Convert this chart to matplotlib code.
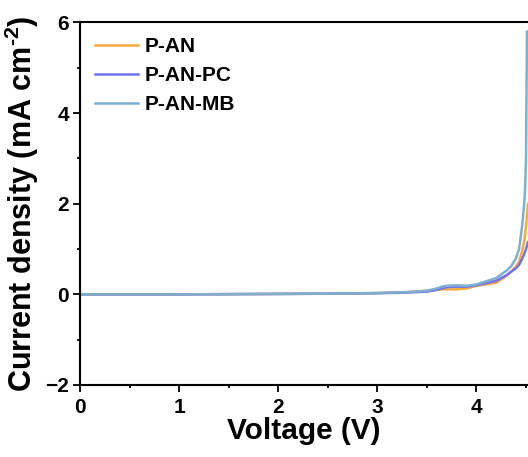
import numpy as np
import matplotlib
matplotlib.use("Agg")
from matplotlib import pyplot as plt
from matplotlib.ticker import MultipleLocator

plt.rcParams['font.family'] = ['Liberation Sans', 'DejaVu Sans']
plt.rcParams['font.weight'] = 'bold'
plt.rcParams['mathtext.fontset'] = 'custom'
plt.rcParams['mathtext.rm'] = 'Liberation Sans:bold'
plt.rcParams['mathtext.bf'] = 'Liberation Sans:bold'

# voltage (V) and current density (mA cm^-2)
v_an = [0, 0.5, 1.0, 1.5, 2.0, 2.5, 3.0, 3.3, 3.5, 3.6, 3.65, 3.7, 3.8, 3.9, 4.0,
        4.1, 4.2, 4.3, 4.35, 4.4, 4.43, 4.46, 4.48, 4.5, 4.52]
j_an = [0, 0, 0, 0.005, 0.01, 0.015, 0.03, 0.05, 0.08, 0.1, 0.11, 0.11, 0.11, 0.13, 0.19,
        0.22, 0.26, 0.4, 0.5, 0.62, 0.72, 0.95, 1.15, 1.5, 2.0]

v_pc = [0, 0.5, 1.0, 1.5, 2.0, 2.5, 3.0, 3.3, 3.5, 3.6, 3.65, 3.7, 3.8, 3.9, 4.0,
        4.1, 4.2, 4.3, 4.35, 4.4, 4.43, 4.46, 4.48, 4.5, 4.52]
j_pc = [0, 0, 0, 0.005, 0.01, 0.015, 0.025, 0.04, 0.06, 0.1, 0.13, 0.16, 0.17, 0.17, 0.2,
        0.25, 0.3, 0.42, 0.5, 0.58, 0.65, 0.78, 0.88, 1.0, 1.15]

v_mb = [0, 0.5, 1.0, 1.5, 2.0, 2.5, 3.0, 3.3, 3.5, 3.6, 3.65, 3.7, 3.8, 3.9, 4.0,
        4.1, 4.2, 4.3, 4.35, 4.4, 4.43, 4.46, 4.48, 4.49, 4.5, 4.505, 4.51]
j_mb = [0, 0, 0, 0.005, 0.01, 0.015, 0.03, 0.05, 0.08, 0.13, 0.17, 0.19, 0.2, 0.19, 0.22,
        0.29, 0.36, 0.52, 0.62, 0.8, 1.0, 1.5, 1.95, 2.3, 3.0, 4.5, 5.8]

fig = plt.figure(figsize=(5.28, 4.57), dpi=100)
ax = fig.add_axes([80 / 528, 72 / 457, 1 - 80 / 528, 362.5 / 457])

ax.plot(v_an, j_an, color='#F8AA3C', lw=1.8, label='P-AN')
ax.plot(v_pc, j_pc, color='#7373EC', lw=1.8, label='P-AN-PC')
ax.plot(v_mb, j_mb, color='#7FAFD0', lw=1.8, label='P-AN-MB')

ax.set_xlim(0, 4.52)
ax.set_ylim(-2, 6)
ax.xaxis.set_major_locator(MultipleLocator(1))
ax.xaxis.set_minor_locator(MultipleLocator(0.5))
ax.yaxis.set_major_locator(MultipleLocator(2))
ax.yaxis.set_minor_locator(MultipleLocator(1))
ax.tick_params(which='both', direction='out', width=1.3, labelsize=15, top=False, right=False)
ax.tick_params(which='major', length=5)
ax.tick_params(which='minor', length=2.2)
ax.tick_params(axis='x', which='major', pad=4.5)
ax.tick_params(axis='y', which='major', pad=3)
for s in ['left', 'bottom', 'top']:
    ax.spines[s].set_linewidth(1.5)
ax.spines['right'].set_visible(False)

ax.set_xlabel('Voltage (V)', fontsize=21.5, fontweight='bold', labelpad=0)
ax.set_ylabel(r'Current density (mA cm$^{\text{-2}}$)', fontsize=22,
              fontweight='bold', labelpad=3)

ax.legend(loc='upper left', frameon=False, fontsize=15, handlelength=2.1,
          handletextpad=0.3, labelspacing=0.48, borderaxespad=0.4, borderpad=0.3)

fig.savefig('out.png', dpi=100)
